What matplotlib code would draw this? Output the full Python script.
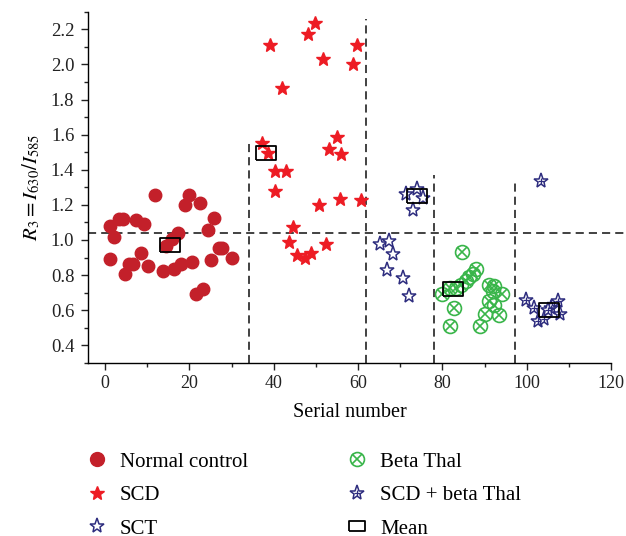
import matplotlib.pyplot as plt
from matplotlib.lines import Line2D

plt.rcParams['font.family'] = 'Liberation Serif'
plt.rcParams['mathtext.fontset'] = 'stix'

# values
normal_x = [1.2, 1.2, 2.2, 3.4, 4.2, 4.8, 5.6, 6.5, 7.4, 8.4, 9.3, 10.1, 11.9, 13.7, 14.5, 15.9,
            16.3, 17.2, 18.0, 18.9, 19.8, 20.6, 21.6, 22.5, 23.3, 24.3, 25.1, 25.9, 26.9, 27.8, 30.1]
normal_y = [1.079, 0.894, 1.019, 1.118, 1.118, 0.808, 0.861, 0.861, 1.114, 0.924, 1.093, 0.850, 1.254, 0.823, 0.965, 1.004,
            0.833, 1.042, 0.865, 1.199, 1.254, 0.877, 0.694, 1.213, 0.719, 1.055, 0.884, 1.127, 0.956, 0.956, 0.899]

scd_x = [49.9, 48.1, 39.2, 59.8, 51.6, 58.9, 41.9, 37.2, 38.6, 55.0, 53.2, 56.0,
         40.4, 42.9, 40.2, 50.7, 55.6, 60.7, 44.5, 43.7, 52.4, 45.4, 47.3, 48.9]
scd_y = [2.234, 2.172, 2.110, 2.110, 2.033, 2.004, 1.864, 1.554, 1.497, 1.589, 1.520, 1.488,
         1.393, 1.393, 1.279, 1.197, 1.231, 1.227, 1.074, 0.988, 0.975, 0.914, 0.899, 0.924]

sct_x = [71.4, 73.9, 75.3, 73.1, 65.2, 67.4, 68.4, 66.8, 70.6, 72.0]
sct_y = [1.260, 1.288, 1.241, 1.171, 0.975, 0.994, 0.918, 0.829, 0.786, 0.681]

beta_x = [84.6, 88.0, 87.2, 86.4, 85.5, 84.4, 81.7, 83.3, 79.9, 91.0,
          92.3, 91.9, 94.2, 91.0, 92.3, 82.8, 90.0, 93.5, 81.8, 88.9]
beta_y = [0.934, 0.833, 0.808, 0.789, 0.766, 0.743, 0.729, 0.729, 0.694, 0.743,
          0.738, 0.709, 0.694, 0.652, 0.630, 0.615, 0.577, 0.571, 0.510, 0.510]

scdb_x = [103.4, 99.9, 101.8, 102.6, 104.2, 105.8, 107.4, 107.8, 105.0]
scdb_y = [1.336, 0.656, 0.611, 0.538, 0.548, 0.611, 0.652, 0.581, 0.600]

mean_x = [15.3, 38.1, 73.9, 82.6, 105.2]
mean_y = [0.970, 1.497, 1.250, 0.723, 0.603]

# dashed separators: (x, top of line)
sep_x = [34.1, 62.0, 77.9, 97.2]
sep_top = [1.56, 2.26, 1.37, 1.34]
threshold = 1.04

red_dark = '#c3202a'
red = '#ed1c24'
navy = '#2e2d7f'
green = '#39b54a'
box_marker = [(-1.5, -1), (1.5, -1), (1.5, 1), (-1.5, 1), (-1.5, -1)]

fig = plt.figure(figsize=(6.26, 5.36), dpi=100)
ax = fig.add_axes([0.141, 0.323, 0.835, 0.655])

dash = (0, (4.5, 2.8))
for x, top in zip(sep_x, sep_top):
    ax.plot([x, x], [0.3, top], color='#333333', lw=1.3, ls=dash, zorder=1)
ax.plot([-4, 127], [threshold, threshold], color='#333333', lw=1.3, ls=dash, zorder=1, clip_on=False)

ax.plot(normal_x, normal_y, 'o', ms=9, color=red_dark, mec=red_dark, zorder=2)
ax.plot(scd_x, scd_y, '*', ms=10, color=red, mec=red, zorder=2)
ax.plot(sct_x, sct_y, '*', ms=11, mfc='white', mec=navy, mew=1.1, zorder=2)
ax.plot(beta_x, beta_y, 'o', ms=10, mfc='none', mec=green, mew=1.2, zorder=2)
ax.plot(beta_x, beta_y, 'x', ms=6.8, color=green, mew=1.2, zorder=2)
ax.plot(scdb_x, scdb_y, '*', ms=11, mfc='white', mec=navy, mew=1.1, zorder=2)
ax.plot(scdb_x, scdb_y, '+', ms=5, color=navy, mew=0.9, zorder=2)
ax.plot(mean_x, mean_y, ls='none', marker=box_marker, ms=15, mfc='none', mec='black', mew=1.3, zorder=3)

ax.set_xlim(-4, 120)
ax.set_ylim(0.3, 2.3)
ax.set_xticks(range(0, 121, 20))
ax.set_xticks(range(10, 120, 20), minor=True)
ax.set_yticks([0.4, 0.6, 0.8, 1.0, 1.2, 1.4, 1.6, 1.8, 2.0, 2.2])
ax.set_yticks([0.3, 0.5, 0.7, 0.9, 1.1, 1.3, 1.5, 1.7, 1.9, 2.1, 2.3], minor=True)
ax.yaxis.set_major_formatter(plt.FormatStrFormatter('%.1f'))
ax.tick_params(which='both', direction='out', labelsize=13, width=1, colors='#222222')
ax.tick_params(which='major', length=5)
ax.tick_params(which='minor', length=3)
ax.tick_params(axis='y', labelsize=13.5, pad=5)
for s in ['top', 'right']:
    ax.spines[s].set_visible(False)
for s in ['left', 'bottom']:
    ax.spines[s].set_linewidth(1)
ax.set_xlabel('Serial number', fontsize=14.5, labelpad=8)
ax.set_ylabel(r'$R_3 = I_{630}/I_{585}$', fontsize=15, labelpad=6)

h_normal = Line2D([], [], ls='none', marker='o', ms=10, color=red_dark)
h_scd = Line2D([], [], ls='none', marker='*', ms=10, color=red)
h_sct = Line2D([], [], ls='none', marker='*', ms=11, mfc='white', mec=navy, mew=1.1)
h_beta = (Line2D([], [], ls='none', marker='o', ms=10, mfc='none', mec=green, mew=1.2),
          Line2D([], [], ls='none', marker='x', ms=6.8, color=green, mew=1.2))
h_scdb = (Line2D([], [], ls='none', marker='*', ms=11, mfc='white', mec=navy, mew=1.1),
          Line2D([], [], ls='none', marker='+', ms=5, color=navy, mew=0.9))
h_mean = Line2D([], [], ls='none', marker=box_marker, ms=11, mfc='none', mec='black', mew=1.3)

leg_kw = dict(loc='upper left', frameon=False, fontsize=15, handlelength=1.0, handletextpad=0.6,
              borderpad=0, borderaxespad=0, labelspacing=0.67)
fig.legend([h_normal, h_scd, h_sct], ['Normal control', 'SCD', 'SCT'],
           bbox_to_anchor=(86.6 / 626, 1 - 452 / 536), **leg_kw)
fig.legend([h_beta, h_scdb, h_mean], ['Beta Thal', 'SCD + beta Thal', 'Mean'],
           bbox_to_anchor=(347 / 626, 1 - 452 / 536), **leg_kw)

fig.savefig('out.png', dpi=100)
